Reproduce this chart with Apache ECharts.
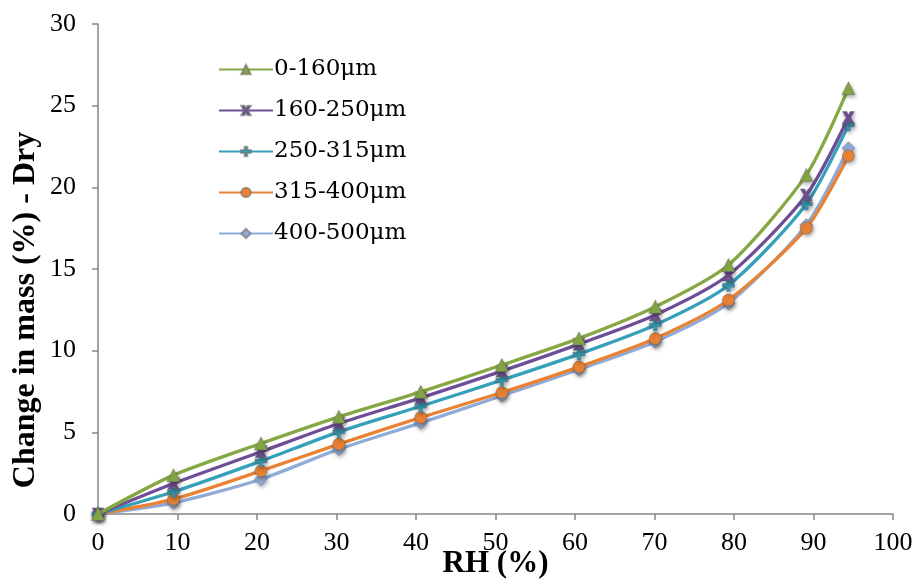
<!DOCTYPE html>
<html><head><meta charset="utf-8">
<script src="https://cdn.jsdelivr.net/npm/echarts@6/dist/echarts.min.js"></script>
<style>html,body{margin:0;padding:0;background:#fff}#c{width:914px;height:581px}</style>
</head><body><div id="c"></div>
<script>
const rh = [0, 9.5, 20.5, 30.3, 40.6, 50.8, 60.5, 70.1, 79.3, 89.1, 94.4];
const names = ['0-160μm', '160-250μm', '250-315μm', '315-400μm', '400-500μm'];
const s0_160   = [0, 2.38, 4.32, 5.95, 7.48, 9.12, 10.75, 12.69, 15.25, 20.76, 26.07];
const s160_250 = [0, 1.87, 3.81, 5.54, 7.11, 8.75, 10.40, 12.18, 14.63, 19.53, 24.27];
const s250_315 = [0, 1.36, 3.24, 5.03, 6.60, 8.20, 9.79, 11.57, 14.00, 18.98, 23.82];
const s315_400 = [0, 0.91, 2.64, 4.28, 5.91, 7.44, 9.01, 10.75, 13.10, 17.50, 21.92];
const s400_500 = [0, 0.68, 2.13, 3.97, 5.58, 7.24, 8.85, 10.55, 12.90, 17.70, 22.40];
const xTicks = [0,10,20,30,40,50,60,70,80,90,100];
const yTicks = [0,5,10,15,20,25,30];
const xTitle = 'RH (%)';
const yTitle = 'Change in mass (%) - Dry';

const values = [s0_160, s160_250, s250_315, s315_400, s400_500];
const colors = ['#86A844', '#6F4E98', '#34A0BA', '#EA8234', '#91ABD8'];
const symbols = ['triangle', 'path://M-1,-1 L-0.4,0 L-1,1 L-0.3,1 L0,0.45 L0.3,1 L1,1 L0.4,0 L1,-1 L0.3,-1 L0,-0.45 L-0.3,-1 Z',
  'path://M-0.3,-1 L0.3,-1 L0.3,-0.3 L1,-0.3 L1,0.3 L0.3,0.3 L0.3,1 L-0.3,1 L-0.3,0.3 L-1,0.3 L-1,-0.3 L-0.3,-0.3 Z',
  'circle', 'diamond'];
const sizes = [13, 12, 12, 12, 13];

const chart = echarts.init(document.getElementById('c'));
chart.setOption({
  animation: false,
  grid: { left: 98, right: 21, top: 24, bottom: 67, containLabel: false, outerBoundsMode: 'none' },
  legend: {
    show: true, orient: 'vertical', left: 213, top: 53, itemGap: 18,
    itemWidth: 54, itemHeight: 12,
    textStyle: { fontFamily: '"DejaVu Serif", serif', fontSize: 23, color: '#000', padding: [0,0,0,-4] },
    data: names
  },
  graphic: [{
    type: 'text', rotation: Math.PI / 2, x: 26, y: 310,
    style: { text: yTitle, font: 'bold 32px "Liberation Serif", serif', fill: '#000',
      align: 'center', verticalAlign: 'middle' }
  }],
  xAxis: {
    type: 'value', min: 0, max: 100, interval: 10,
    name: xTitle, nameLocation: 'middle', nameGap: 34, nameMoveOverlap: false,
    nameTextStyle: { fontFamily: '"Liberation Serif", serif', fontWeight: 'bold', fontSize: 31, color: '#000', verticalAlign: 'top' },
    axisLine: { show: true, onZero: false, lineStyle: { color: '#868686', width: 1.5 } },
    axisTick: { show: true, inside: false, length: 6, lineStyle: { color: '#868686', width: 1.5 } },
    axisLabel: { fontFamily: '"Liberation Serif", serif', fontSize: 26, color: '#000', margin: 16,
      formatter: v => xTicks.includes(v) ? String(v) : '' },
    splitLine: { show: false }
  },
  yAxis: {
    type: 'value', min: 0, max: 30, interval: 5,
    axisLine: { show: true, lineStyle: { color: '#868686', width: 1.5 } },
    axisTick: { show: true, inside: false, length: 6, lineStyle: { color: '#868686', width: 1.5 } },
    axisLabel: { fontFamily: '"Liberation Serif", serif', fontSize: 26, color: '#000', margin: 22,
      formatter: v => yTicks.includes(v) ? String(v) : '' },
    splitLine: { show: false }
  },
  series: names.map((n, i) => ({
    name: n, type: 'line', smooth: 0.25,
    data: rh.map((x, j) => [x, values[i][j]]),
    symbol: symbols[i], symbolSize: sizes[i], showSymbol: true,
    lineStyle: { color: colors[i], width: 3.3 },
    itemStyle: { color: colors[i], borderColor: 'rgba(110,110,110,0.6)', borderWidth: 0.8,
      shadowBlur: 4, shadowColor: 'rgba(0,0,0,0.35)', shadowOffsetX: 1, shadowOffsetY: 2 },
    z: 10 - i
  }))
});
</script></body></html>
